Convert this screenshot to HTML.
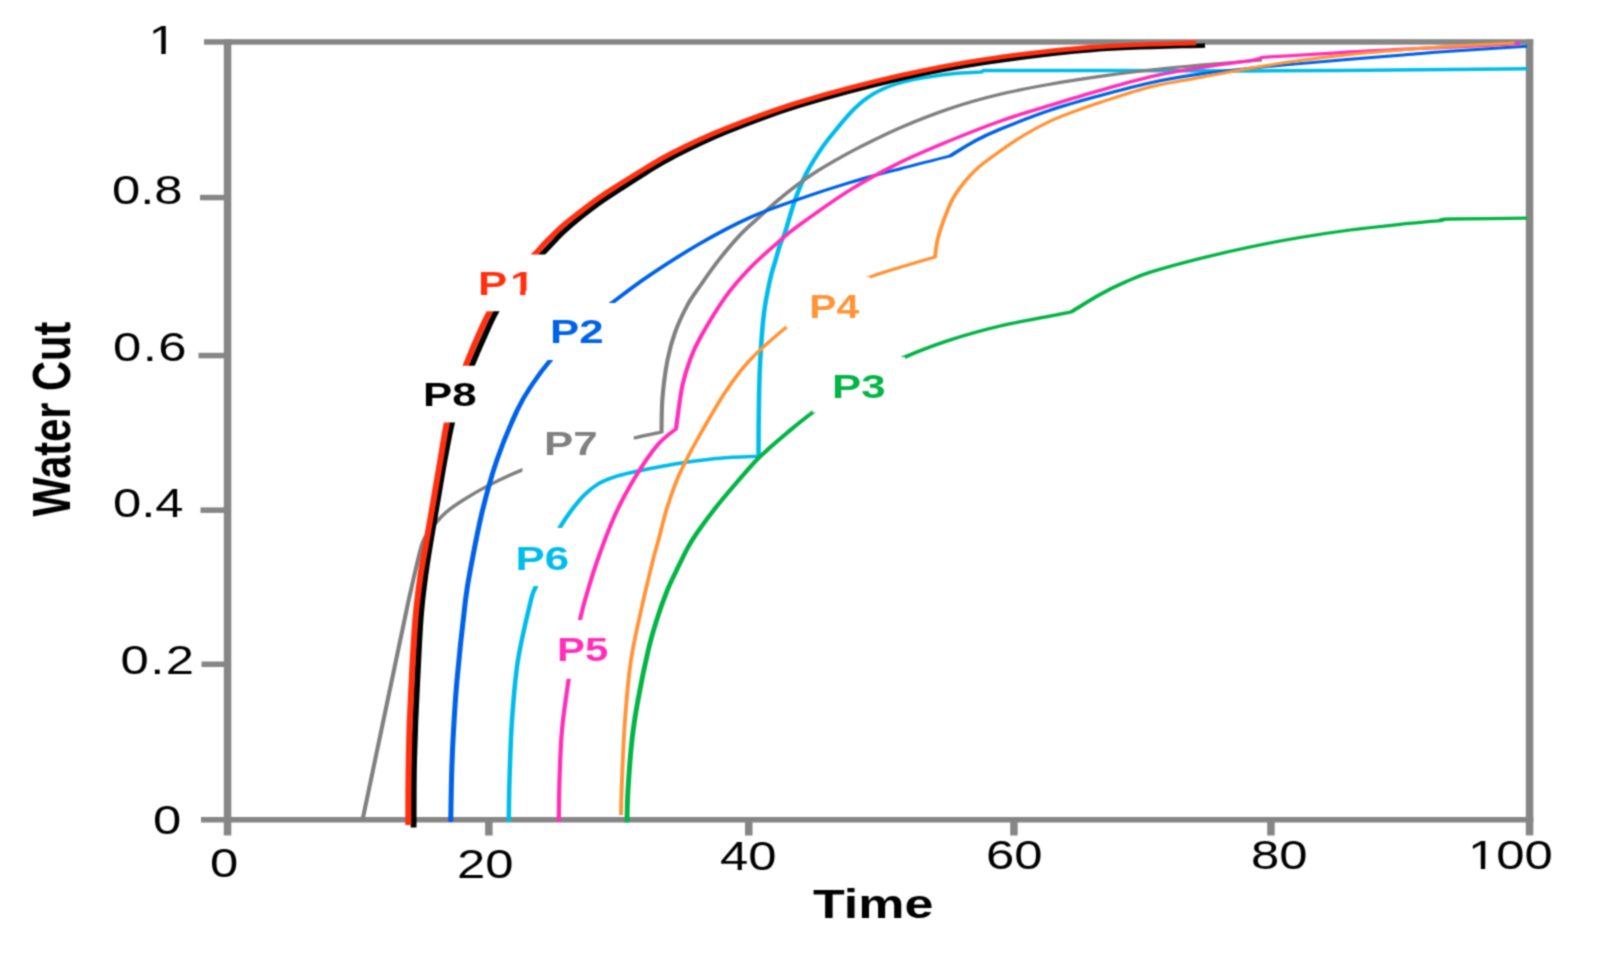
<!DOCTYPE html>
<html lang="en">
<head>
<meta charset="utf-8">
<title>Water Cut vs Time</title>
<style>
html,body{margin:0;padding:0;background:#ffffff;}
body{width:1602px;height:960px;overflow:hidden;}
svg{display:block;}
</style>
</head>
<body>
<svg width="1602" height="960" viewBox="0 0 1602 960">
<defs><filter id="soft" x="0" y="0" width="1602" height="960" filterUnits="userSpaceOnUse" color-interpolation-filters="sRGB"><feConvolveMatrix order="3" kernelMatrix="0.0484 0.1232 0.0484 0.1232 0.3136 0.1232 0.0484 0.1232 0.0484" edgeMode="duplicate" preserveAlpha="false"/></filter></defs>
<g filter="url(#soft)">
<rect x="0" y="0" width="1602" height="960" fill="#ffffff"/>
<g fill="#868686">
<rect x="204.0" y="39.2" width="1329.2" height="5.5"/>
<rect x="223.8" y="817.0" width="1309.5" height="5.5"/>
<rect x="223.8" y="39.2" width="7.5" height="796.2"/>
<rect x="1525.8" y="39.2" width="7.5" height="796.2"/>
<rect x="485.1" y="819.7" width="7.5" height="15.8"/>
<rect x="745.0" y="819.7" width="7.5" height="15.8"/>
<rect x="1010.2" y="819.7" width="7.5" height="15.8"/>
<rect x="1267.2" y="819.7" width="7.5" height="15.8"/>
<rect x="200.0" y="194.8" width="27.5" height="5.5"/>
<rect x="198.5" y="352.8" width="29.0" height="5.5"/>
<rect x="200.5" y="507.4" width="27.0" height="5.5"/>
<rect x="201.5" y="661.5" width="26.0" height="5.5"/>
<rect x="201.0" y="817.0" width="26.5" height="5.5"/>
</g>
<defs>
<clipPath id="clip-p6"><path clip-rule="evenodd" d="M0 0H1602 V960 H0Z M380.77 528.0 H461.54 V586.0 H380.77 Z"/></clipPath>
<clipPath id="clip-p7"><path clip-rule="evenodd" d="M0 0H1602 V960 H0Z M401.92 405.0 H487.50 V495.0 H401.92 Z"/></clipPath>
<clipPath id="clip-p8"><path clip-rule="evenodd" d="M0 0H1602 V960 H0Z M320.00 365.7 H373.85 V422.5 H320.00 Z M360.00 254.5 H432.31 V311.2 H360.00 Z"/></clipPath>
<clipPath id="clip-p1"><path clip-rule="evenodd" d="M0 0H1602 V960 H0Z M320.00 365.7 H373.85 V422.5 H320.00 Z M360.00 254.5 H432.31 V311.2 H360.00 Z"/></clipPath>
<clipPath id="clip-p2"><path clip-rule="evenodd" d="M0 0H1602 V960 H0Z M308.14 303.0 H365.12 V360.0 H308.14 Z"/></clipPath>
<clipPath id="clip-p5"><path clip-rule="evenodd" d="M0 0H1602 V960 H0Z M411.54 620.0 H480.77 V678.8 H411.54 Z"/></clipPath>
<clipPath id="clip-p4"><path clip-rule="evenodd" d="M0 0H1602 V960 H0Z M604.62 277.0 H669.23 V327.5 H604.62 Z"/></clipPath>
<clipPath id="clip-p3"><path clip-rule="evenodd" d="M0 0H1602 V960 H0Z M541.67 357.0 H603.33 V412.5 H541.67 Z"/></clipPath>
</defs>
<g>
<path transform="scale(1.300 1)" d="M391.35 822.0C391.44 815.0 391.51 797.0 391.92 780.0C392.34 763.0 392.76 740.0 393.85 720.0C394.94 700.0 396.03 680.0 398.46 660.0C400.90 640.0 406.15 612.3 408.46 600.0C410.77 587.7 410.38 593.3 412.31 586.0C414.23 578.7 416.97 565.7 420.00 556.0C423.03 546.3 427.31 535.4 430.46 528.0C433.62 520.6 435.76 516.9 438.92 511.4C442.09 505.9 445.95 499.6 449.46 495.0C452.97 490.4 456.47 486.9 460.00 484.0C463.53 481.1 466.21 479.8 470.62 477.8C475.03 475.9 480.29 474.1 486.46 472.3C492.63 470.5 500.56 468.5 507.62 466.8C514.67 465.1 521.06 463.4 528.77 462.0C536.47 460.6 544.73 459.1 553.85 458.2C562.96 457.2 578.53 456.6 583.46 456.3C583.49 449.4 583.46 430.2 583.65 415.0C583.85 399.8 583.97 381.7 584.62 365.0C585.26 348.3 586.22 329.2 587.50 315.0C588.78 300.8 590.87 288.8 592.31 280.0C593.75 271.2 594.87 267.8 596.15 262.0C597.44 256.2 598.72 249.9 600.00 245.0C601.28 240.1 601.92 240.0 603.85 232.5C605.77 225.0 608.78 209.9 611.54 200.0C614.29 190.1 616.86 181.8 620.38 173.0C623.91 164.2 628.58 154.8 632.69 147.0C636.81 139.2 642.00 131.5 645.08 126.5C648.15 121.5 649.05 120.2 651.15 117.2C653.26 114.2 655.45 111.0 657.69 108.2C659.94 105.4 662.31 102.6 664.62 100.3C666.92 98.0 668.97 96.2 671.54 94.2C674.10 92.2 677.05 90.3 680.00 88.6C682.95 86.9 686.15 85.3 689.23 84.0C692.31 82.7 695.38 81.8 698.46 80.8C701.54 79.8 702.31 79.4 707.69 78.3C713.08 77.2 722.95 75.0 730.77 73.9C738.59 72.9 750.64 72.3 754.62 72.0L756.92 70.4C771.79 70.4 812.05 70.5 846.15 70.6C880.26 70.7 916.67 71.1 961.54 70.9C1006.41 70.7 1079.87 69.9 1115.38 69.6C1150.90 69.2 1164.74 68.9 1174.62 68.8" fill="none" stroke="#00bce8" stroke-width="3.5" stroke-linejoin="miter" stroke-linecap="butt" clip-path="url(#clip-p6)"/>
<path transform="scale(1.300 1)" d="M278.85 820.0L314.38 600.0C315.96 591.3 321.37 559.2 323.85 548.0C326.32 536.8 327.24 537.3 329.23 533.0C331.22 528.7 333.33 525.6 335.77 522.0C338.21 518.4 340.51 515.1 343.85 511.5C347.18 507.9 350.58 504.8 355.77 500.5C360.96 496.2 367.37 491.1 375.00 486.0C382.63 480.9 392.24 474.8 401.54 470.0C410.83 465.2 420.77 461.0 430.77 457.0C440.77 453.0 452.08 449.2 461.54 446.0C470.99 442.8 479.62 440.3 487.50 438.0C495.38 435.7 505.29 433.0 508.85 432.0C508.97 426.2 508.85 409.5 509.62 397.5C510.38 385.5 511.86 370.8 513.46 360.0C515.06 349.2 516.67 341.7 519.23 332.5C521.79 323.3 525.64 312.8 528.85 305.0C532.05 297.2 534.46 293.5 538.46 286.0C542.47 278.5 547.76 268.5 552.88 260.0C558.01 251.5 564.10 242.1 569.23 235.0C574.36 227.9 578.85 223.2 583.65 217.5C588.46 211.8 593.27 205.9 598.08 200.6C602.88 195.3 607.69 190.3 612.50 185.6C617.31 180.9 622.12 176.6 626.92 172.5C631.73 168.4 635.58 165.5 641.35 161.2C647.12 157.0 653.04 152.6 661.54 147.0C670.03 141.4 680.77 134.2 692.31 127.8C703.85 121.4 717.95 114.1 730.77 108.5C743.59 102.9 756.41 98.3 769.23 94.3C782.05 90.3 794.87 87.3 807.69 84.3C820.51 81.3 833.33 78.8 846.15 76.4C858.97 74.0 871.79 71.9 884.62 70.0C897.44 68.1 908.72 66.9 923.08 65.2C937.44 63.5 962.82 60.9 970.77 60.0" fill="none" stroke="#808080" stroke-width="3.2" stroke-linejoin="miter" stroke-linecap="butt" clip-path="url(#clip-p7)"/>
<path transform="scale(1.300 1)" d="M318.15 827.5C318.17 821.2 318.17 801.2 318.23 790.0C318.29 778.8 318.32 771.7 318.54 760.0C318.76 748.3 319.06 735.0 319.54 720.0C320.01 705.0 320.68 687.5 321.38 670.0C322.09 652.5 322.79 630.8 323.77 615.0C324.74 599.2 325.96 587.5 327.23 575.0C328.51 562.5 329.85 552.5 331.42 540.0C333.00 527.5 334.93 513.3 336.69 500.0C338.46 486.7 340.15 472.9 342.00 460.0C343.85 447.1 345.60 433.7 347.77 422.5C349.94 411.3 352.47 402.5 355.00 393.0C357.53 383.5 360.10 374.8 362.92 365.7C365.74 356.6 368.76 347.6 371.92 338.5C375.09 329.4 377.63 320.9 381.92 311.2C386.22 301.4 391.90 289.4 397.69 280.0C403.49 270.6 411.76 261.2 416.69 254.5C421.63 247.8 424.58 243.7 427.31 240.0C430.04 236.3 429.94 236.0 433.08 232.3C436.22 228.6 441.41 222.8 446.15 217.8C450.90 212.9 456.41 207.3 461.54 202.6C466.67 197.9 471.15 194.3 476.92 189.4C482.69 184.5 489.49 178.7 496.15 173.4C502.82 168.1 506.79 164.2 516.92 157.5C527.05 150.8 540.51 141.7 556.92 133.0C573.33 124.3 592.82 114.5 615.38 105.5C637.95 96.5 668.46 86.0 692.31 78.8C716.15 71.6 733.85 67.4 758.46 62.6C783.08 57.8 811.92 52.9 840.00 50.0C868.08 47.1 912.44 46.2 926.92 45.4" fill="none" stroke="#000000" stroke-width="4.5" stroke-linejoin="miter" stroke-linecap="butt" clip-path="url(#clip-p8)"/>
<path transform="scale(1.300 1)" d="M314.08 825.0C314.09 819.2 314.09 800.8 314.15 790.0C314.22 779.2 314.28 771.7 314.46 760.0C314.64 748.3 314.79 735.0 315.23 720.0C315.67 705.0 316.31 687.5 317.08 670.0C317.85 652.5 318.77 630.8 319.85 615.0C320.92 599.2 322.14 587.5 323.54 575.0C324.94 562.5 326.56 552.5 328.23 540.0C329.90 527.5 331.78 513.3 333.54 500.0C335.29 486.7 337.05 472.9 338.77 460.0C340.49 447.1 341.91 433.7 343.85 422.5C345.78 411.3 347.99 402.5 350.38 393.0C352.78 383.5 355.47 374.8 358.23 365.7C360.99 356.6 363.81 347.6 366.92 338.5C370.04 329.4 372.69 320.9 376.92 311.2C381.15 301.4 386.60 289.4 392.31 280.0C398.01 270.6 406.28 261.2 411.15 254.5C416.03 247.8 417.88 244.8 421.54 240.0C425.19 235.2 428.97 230.2 433.08 225.5C437.18 220.8 441.41 216.8 446.15 212.0C450.90 207.2 456.41 201.7 461.54 197.0C466.67 192.3 471.15 188.8 476.92 184.0C482.69 179.2 489.49 173.7 496.15 168.5C502.82 163.3 506.79 159.6 516.92 153.0C527.05 146.4 540.51 137.7 556.92 129.2C573.33 120.7 592.82 110.9 615.38 102.0C637.95 93.1 668.46 82.7 692.31 75.6C716.15 68.5 733.85 63.9 758.46 59.2C783.08 54.5 813.08 49.9 840.00 47.2C866.92 44.5 906.67 43.6 920.00 42.9" fill="none" stroke="#ff3010" stroke-width="4.7" stroke-linejoin="miter" stroke-linecap="butt" clip-path="url(#clip-p1)"/>
<path transform="scale(1.720 1)" d="M262.06 822.0C262.14 815.0 262.28 793.7 262.50 780.0C262.72 766.3 262.84 756.7 263.37 740.0C263.91 723.3 264.49 703.3 265.70 680.0C266.91 656.7 269.17 620.0 270.64 600.0C272.11 580.0 272.88 575.0 274.53 560.0C276.19 545.0 278.19 526.7 280.58 510.0C282.97 493.3 285.53 476.7 288.90 460.0C292.26 443.3 297.31 422.7 300.76 410.0C304.21 397.3 306.38 392.3 309.59 384.0C312.81 375.7 315.55 369.2 320.06 360.0C324.56 350.8 330.62 338.6 336.63 329.0C342.64 319.4 349.22 311.5 356.10 302.5C362.98 293.5 369.43 284.8 377.91 275.0C386.39 265.2 397.29 253.1 406.98 243.5C416.67 233.9 426.36 225.0 436.05 217.5C445.74 210.0 455.43 204.6 465.12 198.8C474.81 192.9 484.50 187.5 494.19 182.5C503.88 177.5 513.57 173.2 523.26 168.8C532.95 164.3 547.48 158.1 552.33 156.0C554.75 153.5 562.02 145.4 566.86 141.0C571.71 136.6 574.13 134.4 581.40 129.3C588.66 124.2 600.78 115.9 610.47 110.3C620.16 104.7 629.84 100.2 639.53 95.6C649.22 91.0 658.91 86.4 668.60 82.8C678.29 79.2 687.98 76.4 697.67 74.0C707.36 71.6 717.05 70.0 726.74 68.3C736.43 66.6 746.12 65.1 755.81 63.6C765.50 62.1 775.19 60.7 784.88 59.3C794.57 57.9 804.26 56.6 813.95 55.2C823.64 53.9 830.72 52.7 843.02 51.2C855.33 49.7 880.33 47.1 887.79 46.2" fill="none" stroke="#0062e6" stroke-width="2.95" stroke-linejoin="miter" stroke-linecap="butt" clip-path="url(#clip-p2)"/>
<path transform="scale(1.300 1)" d="M429.81 822.0C429.90 815.0 429.97 795.3 430.38 780.0C430.80 764.7 431.12 746.9 432.31 730.0C433.49 713.1 435.96 692.4 437.50 678.8C439.04 665.1 440.10 657.8 441.54 648.0C442.98 638.2 444.74 628.0 446.15 620.0C447.56 612.0 447.76 610.0 450.00 600.0C452.24 590.0 455.77 574.2 459.62 560.0C463.46 545.8 468.27 528.8 473.08 515.0C477.88 501.2 483.01 489.2 488.46 477.5C493.91 465.8 500.51 453.1 505.77 445.0C511.03 436.9 517.63 431.5 520.00 428.8C520.19 426.9 520.32 424.8 521.15 417.5C521.99 410.2 523.40 394.6 525.00 385.0C526.60 375.4 528.53 367.8 530.77 360.0C533.01 352.2 533.97 348.4 538.46 338.0C542.95 327.6 551.28 309.2 557.69 297.5C564.10 285.8 569.87 277.5 576.92 268.0C583.97 258.5 593.59 247.8 600.00 240.5C606.41 233.2 606.41 232.9 615.38 224.5C624.36 216.1 641.03 200.3 653.85 190.0C666.67 179.7 679.49 170.7 692.31 162.5C705.13 154.3 717.95 147.5 730.77 140.6C743.59 133.7 756.41 127.1 769.23 121.2C782.05 115.3 794.87 110.5 807.69 105.4C820.51 100.3 833.33 95.2 846.15 90.4C858.97 85.6 871.79 80.6 884.62 76.8C897.44 73.0 910.26 70.3 923.08 67.6C935.90 64.9 953.53 62.3 961.54 60.6C969.55 58.9 969.55 57.8 971.15 57.3C975.96 56.9 988.78 56.1 1000.00 55.2C1011.22 54.3 1025.64 53.0 1038.46 52.0C1051.28 51.0 1064.10 50.3 1076.92 49.5C1089.74 48.7 1100.00 48.0 1115.38 47.0C1130.77 46.0 1160.26 44.1 1169.23 43.5" fill="none" stroke="#ff30b8" stroke-width="3.3" stroke-linejoin="miter" stroke-linecap="butt" clip-path="url(#clip-p5)"/>
<path transform="scale(1.300 1)" d="M477.69 815.0C477.82 809.2 477.95 795.8 478.46 780.0C478.97 764.2 479.62 740.0 480.77 720.0C481.92 700.0 483.14 679.3 485.38 660.0C487.63 640.7 491.41 620.7 494.23 604.0C497.05 587.3 500.26 570.7 502.31 560.0C504.36 549.3 504.77 548.5 506.54 540.0C508.31 531.5 510.63 518.5 512.92 508.7C515.22 498.9 517.85 489.2 520.31 481.2C522.77 473.2 525.05 467.5 527.69 460.6C530.33 453.7 531.15 451.4 536.15 440.0C541.15 428.6 550.90 405.8 557.69 392.5C564.49 379.2 569.10 370.8 576.92 360.0C584.74 349.2 594.87 338.0 604.62 327.5C614.36 317.0 624.62 305.4 635.38 297.0C646.15 288.6 655.26 283.7 669.23 277.0C683.21 270.3 710.90 260.3 719.23 257.0C719.55 254.2 720.03 246.2 721.15 240.0C722.28 233.8 723.72 227.5 725.96 220.0C728.21 212.5 730.61 203.2 734.62 195.0C738.62 186.8 744.23 177.8 750.00 170.5C755.77 163.2 762.82 157.2 769.23 151.2C775.64 145.2 782.05 139.6 788.46 134.6C794.87 129.6 801.28 125.2 807.69 121.3C814.10 117.4 820.51 114.4 826.92 111.2C833.33 108.1 836.54 106.5 846.15 102.5C855.77 98.5 871.79 91.2 884.62 87.0C897.44 82.8 910.26 80.6 923.08 77.5C935.90 74.4 948.72 71.1 961.54 68.3C974.36 65.5 987.18 62.8 1000.00 60.5C1012.82 58.2 1025.64 56.2 1038.46 54.5C1051.28 52.8 1064.10 51.4 1076.92 50.0C1089.74 48.6 1100.71 47.4 1115.38 46.2C1130.06 45.1 1156.73 43.5 1165.00 43.0" fill="none" stroke="#ff9438" stroke-width="3.0" stroke-linejoin="miter" stroke-linecap="butt" clip-path="url(#clip-p4)"/>
<path transform="scale(1.500 1)" d="M418.00 822.5C418.11 817.1 418.11 803.8 418.67 790.0C419.22 776.2 420.22 755.0 421.33 740.0C422.44 725.0 423.52 715.0 425.33 700.0C427.14 685.0 430.12 663.3 432.20 650.0C434.28 636.7 435.76 629.7 437.80 620.0C439.84 610.3 442.24 600.0 444.47 591.7C446.69 583.4 448.73 577.5 451.13 570.0C453.53 562.5 456.39 553.4 458.87 546.7C461.34 540.0 463.06 536.3 466.00 530.0C468.94 523.7 472.49 516.4 476.53 508.7C480.58 501.0 485.69 492.0 490.27 484.0C494.84 476.0 500.16 466.7 504.00 460.6C507.84 454.5 509.83 452.3 513.33 447.6C516.83 442.9 520.28 438.4 525.00 432.5C529.72 426.6 533.94 421.1 541.67 412.5C549.39 403.9 561.06 390.2 571.33 381.0C581.61 371.8 593.00 363.8 603.33 357.0C613.67 350.2 622.78 345.2 633.33 340.0C643.89 334.8 655.56 330.0 666.67 326.0C677.78 322.0 692.11 318.6 700.00 316.2C707.89 313.9 711.67 312.7 714.00 312.0C717.22 309.1 727.33 299.5 733.33 294.5C739.33 289.5 744.44 285.9 750.00 282.2C755.56 278.5 758.33 276.2 766.67 272.3C775.00 268.4 788.89 262.7 800.00 258.5C811.11 254.3 822.22 250.5 833.33 247.0C844.44 243.5 855.56 240.3 866.67 237.5C877.78 234.7 888.89 232.2 900.00 230.0C911.11 227.8 923.11 225.9 933.33 224.3C943.56 222.7 956.67 221.0 961.33 220.3C962.22 220.1 957.22 219.3 966.67 219.0C976.11 218.7 1009.44 218.3 1018.00 218.2" fill="none" stroke="#04b446" stroke-width="3.3" stroke-linejoin="miter" stroke-linecap="butt" clip-path="url(#clip-p3)"/>
</g>
<g font-family="'Liberation Sans', sans-serif" fill="#000000">
<text transform="translate(148.5 54.0) scale(1.270 1)" font-size="40.0" text-anchor="start">1</text>
<text transform="translate(112.0 204.0) scale(1.270 1)" font-size="40.0" text-anchor="start">0.8</text>
<text transform="translate(113.0 361.0) scale(1.270 1)" font-size="40.0" text-anchor="start" letter-spacing="1.10">0.6</text>
<text transform="translate(113.0 517.0) scale(1.270 1)" font-size="40.0" text-anchor="start">0.4</text>
<text transform="translate(120.5 674.0) scale(1.270 1)" font-size="40.0" text-anchor="start" letter-spacing="1.10">0.2</text>
<text transform="translate(153.0 834.0) scale(1.270 1)" font-size="40.0" text-anchor="start">0</text>
<text transform="translate(210.0 877.0) scale(1.270 1)" font-size="40.0" text-anchor="start">0</text>
<text transform="translate(457.0 878.0) scale(1.270 1)" font-size="40.0" text-anchor="start">20</text>
<text transform="translate(720.0 870.0) scale(1.270 1)" font-size="40.0" text-anchor="start">40</text>
<text transform="translate(986.0 869.0) scale(1.270 1)" font-size="40.0" text-anchor="start">60</text>
<text transform="translate(1251.0 869.0) scale(1.270 1)" font-size="40.0" text-anchor="start">80</text>
<text transform="translate(1468.0 869.0) scale(1.270 1)" font-size="40.0" text-anchor="start">100</text>
</g>
<g font-family="'Liberation Sans', sans-serif" font-weight="bold">
<text transform="translate(478.0 294.5) scale(1.330 1)" font-size="33.0" fill="#ff3010" letter-spacing="2.20">P1</text>
<text transform="translate(550.0 343.0) scale(1.330 1)" font-size="33.0" fill="#0062e6">P2</text>
<text transform="translate(423.0 406.0) scale(1.330 1)" font-size="33.0" fill="#000000">P8</text>
<text transform="translate(544.0 455.0) scale(1.330 1)" font-size="33.0" fill="#808080">P7</text>
<text transform="translate(515.5 569.5) scale(1.330 1)" font-size="33.0" fill="#00bce8">P6</text>
<text transform="translate(557.0 661.0) scale(1.270 1)" font-size="33.0" fill="#ff30b8">P5</text>
<text transform="translate(809.3 317.5) scale(1.235 1)" font-size="33.0" fill="#ff9438">P4</text>
<text transform="translate(832.0 397.5) scale(1.330 1)" font-size="33.0" fill="#04b446">P3</text>
<text transform="translate(813.0 917.5) scale(1.300 1)" font-size="40.0" fill="#000000">Time</text>
<text transform="translate(69.7 516.5) rotate(-90) scale(1 1.270)" font-size="41.6" fill="#000000">Water Cut</text>
</g>
<g fill="#ffffff">
<rect x="149.0" y="50.3" width="12.3" height="5.2"/>
<rect x="165.7" y="50.3" width="11.3" height="5.2"/>
<rect x="1470.0" y="865.3" width="10.8" height="5.2"/>
<rect x="1485.2" y="865.3" width="10.4" height="5.2"/>
<rect x="508.0" y="290.8" width="12.1" height="5.7"/>
<rect x="525.5" y="290.8" width="9.5" height="5.7"/>
</g>
</g>
</svg>
</body>
</html>
